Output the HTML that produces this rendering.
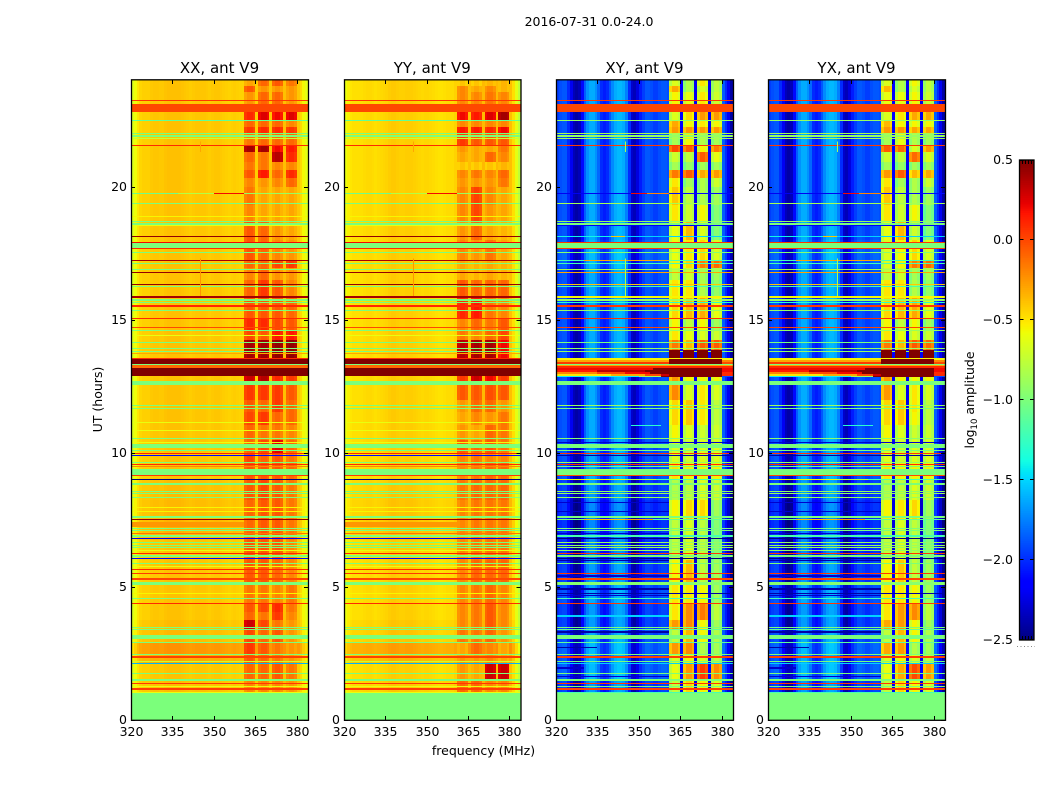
<!DOCTYPE html>
<html lang="en"><head><meta charset="utf-8"><title>2016-07-31 0.0-24.0</title>
<style>
html,body{margin:0;padding:0;background:#fff}
svg{display:block}
text{font-family:"DejaVu Sans","Liberation Sans",sans-serif;fill:#000}
</style></head>
<body>
<svg id="chart" xmlns="http://www.w3.org/2000/svg" width="1050" height="800" viewBox="0 0 1050 800">
<text x="589" y="26" font-size="12.5" text-anchor="middle">2016-07-31 0.0-24.0</text>
<text x="483.5" y="755" font-size="12.5" text-anchor="middle">frequency (MHz)</text>
<text transform="translate(102,399.5) rotate(-90)" font-size="12.5" text-anchor="middle">UT (hours)</text>
<text transform="translate(974,400) rotate(-90)" font-size="12.5" text-anchor="middle">log<tspan font-size="8.5" dy="3">10</tspan><tspan dy="-3"> amplitude</tspan></text>
</svg>
<script>
// ---- axis data ----
const xTicks = [320,335,350,365,380];
const yTicks = [0,5,10,15,20];
const cbarTicks = [-2.5,-2,-1.5,-1,-0.5,0,0.5];
const cbarTickLabels = ['\u22122.5','\u22122.0','\u22121.5','\u22121.0','\u22120.5','0.0','0.5'];
const panelTitles = ['XX, ant V9','YY, ant V9','XY, ant V9','YX, ant V9'];

// ---- frequency profiles (log10 amplitude, one value per MHz from 320 to 383) ----
const profileXX = [-.65,-.58,-.50,-.45,-.43,-.43,-.43,-.41,-.40,-.40,-.41,-.41,-.39,-.38,-.38,-.38,
 -.38,-.38,-.39,-.40,-.41,-.42,-.41,-.40,-.40,-.40,-.40,-.41,-.42,-.41,-.40,-.40,
 -.41,-.42,-.43,-.44,-.43,-.42,-.43,-.44,-.44,-.3,-.3,-.3,-.3,-.42,-.3,-.3,
 -.3,-.3,-.40,-.3,-.3,-.3,-.3,-.38,-.3,-.3,-.3,-.3,-.40,-.46,-.56,-.62];
const profileYY = [-.6,-.54,-.5,-.48,-.48,-.48,-.48,-.47,-.46,-.46,-.47,-.48,-.47,-.46,-.45,-.44,
 -.42,-.41,-.41,-.42,-.43,-.43,-.42,-.42,-.42,-.43,-.44,-.45,-.46,-.45,-.45,-.46,
 -.47,-.48,-.49,-.49,-.48,-.47,-.47,-.47,-.44,-.3,-.3,-.3,-.3,-.38,-.3,-.3,
 -.3,-.3,-.36,-.3,-.3,-.3,-.3,-.36,-.3,-.3,-.3,-.3,-.38,-.48,-.62,-.75];
const profileCross = [-1.95,-1.9,-1.87,-1.87,-2.0,-2.2,-2.35,-2.4,-2.35,-2.1,-1.85,-1.7,-1.62,-1.62,-1.7,-1.82,
 -2.0,-2.05,-2.0,-1.87,-1.72,-1.62,-1.58,-1.58,-1.62,-1.75,-2.0,-2.3,-2.35,-2.25,-2.05,-1.95,
 -1.87,-1.87,-1.9,-1.95,-1.95,-1.9,-1.87,-1.87,-1.9,-1,-1,-1,-1,-2.15,-1,-1,
 -1,-1,-2.2,-1,-1,-1,-1,-2.2,-1,-1,-1,-1,-1.85,-2.0,-2.2,-2.4];

// ---- RFI sub-bands in MHz ----
const bandEdges = [[361,365],[366,370],[371,375],[376,380]];
const crossBandShape = [-.1,.05,.05,-.05];
const parallelBandShape = [-.04,.01,.01,-.04];

// ---- time blocks: UT edges, top to bottom ----
const blockEdges = [24,23.78,23.55,23.10,22.80,22.50,22.24,21.98,21.56,21.30,20.93,20.63,20.33,19.99,19.31,18.68,18.00,17.25,16.95,16.50,15.90,15.08,14.63,14.25,13.54,12.90,12.56,12.00,11.55,11.06,10.50,10.01,9.68,9.00,8.25,7.50,6.75,6.00,5.18,4.39,4.05,3.75,3.38,2.89,2.48,2.10,1.50,1.00,0];

// ---- band amplitudes per time block ----
const bandsXX = [[-.3,-.1,-.05,-.15],[-.05,-.25,-.25,-.25],[-.25,-.1,-.1,-.25],[0,0,0,0],[.1,.25,.2,.25],[-.1,-.1,-.1,-.2],[.05,.1,.1,.05],[-.15,-.1,-.1,-.1],[.4,.4,.2,.15],[-.1,-.15,.35,.1],[-.15,-.15,-.2,-.2],[-.05,.15,-.1,.1],[-.2,-.25,-.2,-.1],[-.15,-.3,-.3,-.3],[-.2,-.3,-.3,-.3],[-.05,-.1,-.25,-.3],[-.05,-.1,-.2,-.25],[-.1,-.1,0,.05],[-.2,-.1,-.25,-.25],[-.1,.05,-.05,-.2],[-.05,-.05,-.05,-.1],[.1,.1,0,-.05],[0,-.05,.15,.15],[.4,.4,.45,.45],[.5,.5,.5,.5],[.3,.35,.1,.05],[.05,.05,.05,-.05],[-.05,-.1,.05,-.1],[0,.05,-.1,-.1],[-.1,-.15,-.15,-.2],[-.1,0,.25,-.1],[0,-.1,-.05,-.15],[-.05,-.05,-.05,-.1],[-.05,0,-.05,-.15],[-.1,-.05,-.05,-.15],[-.1,-.05,-.05,-.15],[-.05,-.05,-.05,-.2],[-.05,-.05,-.1,-.2],[-.15,-.15,-.2,-.15],[-.05,0,.1,-.15],[-.1,-.15,.05,-.2],[.3,0,-.15,-.25],[0,-.1,-.05,-.25],[.05,-.05,-.15,-.25],[-.05,-.1,-.15,-.25],[-.1,-.1,-.05,-.15],[-.2,-.2,-.2,-.25],[-1,-1,-1,-1]];
const bandsYY = [[-.4,-.4,-.35,-.35],[-.2,-.3,-.2,-.35],[-.2,-.2,-.15,-.2],[0,0,0,0],[.2,.15,.25,.4],[-.2,-.2,-.2,-.2],[.15,.15,.1,.2],[.05,-.05,-.05,-.05],[-.25,-.3,-.3,-.15],[-.3,-.3,-.1,-.2],[-.4,-.4,-.4,-.35],[-.2,-.15,-.2,-.1],[-.25,-.25,-.25,-.15],[-.2,.02,-.2,-.3],[-.2,0,-.25,-.3],[-.25,-.1,-.3,-.35],[-.2,-.25,-.15,-.3],[-.3,-.35,-.3,-.35],[-.3,-.35,-.3,-.35],[-.05,-.1,-.1,-.1],[.1,.15,-.15,-.2],[-.2,-.1,-.15,-.05],[-.15,-.2,-.1,0],[.35,.4,.4,.2],[.5,.5,.5,.5],[.05,.3,.2,.05],[-.05,-.05,-.02,-.05],[-.25,-.1,-.1,-.25],[-.3,-.2,-.25,-.15],[-.25,-.3,-.1,-.15],[-.05,-.1,-.05,-.15],[-.2,-.15,-.2,-.2],[-.2,-.15,-.1,-.1],[-.15,-.1,-.1,-.1],[-.2,-.15,-.15,-.15],[-.2,-.15,-.15,-.15],[-.2,-.15,-.15,-.15],[-.2,-.1,-.1,-.1],[-.2,-.15,-.1,-.2],[-.2,-.15,-.05,-.2],[-.2,-.15,-.05,-.2],[-.2,-.15,-.05,-.2],[-.15,-.15,-.1,-.25],[-.3,-.1,-.2,-.3],[-.25,-.25,-.2,-.3],[-.25,-.3,.3,.3],[-.1,-.1,-.2,-.2],[-1,-1,-1,-1]];
const bandsXY = [[-.7,-.85,-.55,-.8],[-.35,-.85,-.7,-.8],[-.6,-.65,-.55,-.75],[0,0,0,0],[-.7,-.5,-.3,-.3],[-.35,-.6,-.55,-.6],[-.3,-.3,-.3,-.3],[-.9,-.6,-.85,-.9],[-.05,-.1,-.6,-.2],[-.75,-.8,-.1,-.65],[-.9,-.95,-.9,-.9],[-.2,-.1,-.35,-.3],[-.55,-.9,-.85,-.75],[-.45,-.8,-.85,-.9],[-.55,-.75,-.6,-1],[-.65,-.4,-.7,-1],[-.65,-.55,-.5,-.7],[-.6,-.5,-.2,-.15],[-.8,-.75,-.9,-.9],[-.55,-.55,-.85,-.95],[-.5,-.4,-.35,-.65],[-.6,-.8,-.6,-.9],[-.55,-.65,-.7,-.75],[-.2,-.4,-.1,-.1],[.5,.5,.5,.5],[-.3,-.6,-.6,-.6],[-.25,-.7,-.55,-.7],[-.5,-.45,-.55,-.8],[-.5,-.45,-.55,-.8],[-.6,-.7,-.75,-.75],[-.7,-.75,-.7,-.7],[-.7,-.75,-.7,-.7],[-.55,-.6,-.6,-.6],[-.85,-.8,-.7,-.75],[-.6,-.5,-.5,-.9],[-.8,-.7,-.8,-1],[-.8,-.7,-.8,-1],[-.6,-.4,-.8,-.9],[-.55,-.55,-.6,-.9],[-.55,-.25,-.2,-.8],[-.55,-.25,-.2,-.8],[-.3,-.25,-.6,-.9],[-.8,-.4,-.6,-.85],[-.3,-.25,-.85,-.9],[-.7,-.6,-.7,-.8],[-.65,-.3,0,-.25],[-.8,-.5,-.6,-.7],[-1,-1,-1,-1]];
const bandsYX = [[-.7,-.85,-.6,-.8],[-.4,-.85,-.7,-.8],[-.65,-.65,-.6,-.75],[0,0,0,0],[-.7,-.55,-.35,-.35],[-.4,-.6,-.6,-.6],[-.3,-.3,-.35,-.35],[-.9,-.65,-.85,-.9],[-.1,-.15,-.7,-.3],[-.75,-.8,-.15,-.7],[-.9,-.95,-.9,-.9],[-.3,-.1,-.4,-.35],[-.55,-.9,-.85,-.75],[-.45,-.8,-.85,-.9],[-.55,-.75,-.6,-1],[-.65,-.4,-.75,-1],[-.7,-.6,-.5,-.7],[-.7,-.6,-.2,-.15],[-.8,-.75,-.9,-.9],[-.55,-.55,-.85,-.95],[-.5,-.4,-.35,-.65],[-.6,-.8,-.6,-.9],[-.55,-.65,-.7,-.75],[-.2,-.4,-.1,-.15],[.5,.5,.5,.5],[-.3,-.6,-.6,-.6],[-.3,-.7,-.55,-.7],[-.5,-.45,-.55,-.8],[-.5,-.45,-.6,-.8],[-.6,-.7,-.75,-.75],[-.7,-.75,-.7,-.7],[-.7,-.75,-.7,-.7],[-.55,-.6,-.6,-.6],[-.85,-.8,-.7,-.75],[-.6,-.55,-.5,-.9],[-.8,-.7,-.8,-1],[-.8,-.7,-.8,-1],[-.6,-.45,-.8,-.9],[-.55,-.55,-.6,-.9],[-.55,-.3,-.25,-.8],[-.55,-.3,-.25,-.8],[-.35,-.3,-.6,-.9],[-.8,-.4,-.6,-.85],[-.35,-.3,-.85,-.9],[-.7,-.6,-.7,-.8],[-.65,-.35,-.05,-.3],[-.8,-.5,-.6,-.7],[-1,-1,-1,-1]];

// ---- broadband level change per time block, added outside the RFI bands ----
const gainParallel = [0,0,0,0,0,0,0,0,0,0,0,0,0,0,0,0,0,0,0,0,0,0,0,0,0,0,0,0,0,0,0,0,0,.02,.03,.05,0,0,0,0,0,.02,.03,.15,.08,0,.02,0];
const gainCross = [0,0,0,0,0,0,0,0,0,0,0,0,0,0,0,0,.05,.05,0,0,0,0,0,0,0,0,0,0,0,0,0,0,0,-.05,-.1,-.1,-.1,-.05,0,-.05,-.05,-.05,0,.05,0,.05,-.05,0];

// ---- horizontal stripes: [centre UT, thickness h, parallel value, cross value]
// a value may be a list of [MHz from, MHz to, value] segments; null leaves that pol untouched
const stripes = [
[23.24,.04,.05,.05],[22.95,.30,0,0],[22.49,.04,-1.1,-.9],[21.99,.05,-1,-.85],[21.90,.04,-1,-.9],[21.81,.04,-.75,-.85],[21.55,.04,.1,.05],
[19.75,.04,[[320,337,-1.05],[337,350,-.8],[350,361,.2],[361,384,-.9]],[[320,347,-2.2],[347,353,.2],[353,361,-.2],[361,384,-2.1]]],
[19.38,.04,-1,-.85],[18.89,.04,-.55,null],[18.70,.05,-1,-.9],[18.60,.04,-1,-1],[18.53,.04,-.6,-2.2],
[18.14,.04,.45,[[320,340,-1.4],[340,345,-.4],[345,384,-1.5]]],[17.91,.04,.2,.05],[17.79,.165,-1,-1],[17.69,.04,.1,.05],[17.54,.04,-1,-.95],
[17.24,.04,.4,[[320,330,-1.2],[330,361,-.3],[361,384,-1.2]]],[17.11,.045,-1,-1.2],[16.89,.045,-1,-.85],[16.78,.04,.45,-.3],[16.34,.04,.45,-.4],[16.26,.04,-1,-1.2],
[15.87,.075,.4,-.55],[15.75,.04,-1,-.9],[15.65,.04,-1,-1.3],[15.53,.05,.1,.05],[15.35,.04,-1,-.9],[15.06,.05,.1,.08],[14.73,.04,0,0],[14.60,.04,-1,-.9],[14.41,.04,-.6,null],
[14.15,.05,-1,-1],[13.92,.04,-1,-.9],[13.81,.04,-1,-.9],[13.725,.30,null,[[361,365,.5],[366,370,.5],[371,375,.5],[376,380,.5]]],[13.75,.04,-.3,null],[13.56,.04,.1,-.55],
[13.52,.04,.5,[[320,361,-.55],[361,380,.5],[380,384,-.6]]],[13.46,.075,.5,[[320,361,-.3],[361,380,.5],[380,384,-.2]]],[13.39,.075,.5,[[320,361,.05],[361,380,.5],[380,384,0]]],
[13.32,.04,-1,-1],[13.29,.05,-.1,-.3],[13.23,.06,-.1,.1],
[13.16,.075,.5,[[320,355,.2],[355,380,.5],[380,384,.2]]],[13.09,.075,.5,[[320,335,.15],[335,352,.35],[352,380,.5],[380,384,.2]]],[13.01,.075,.5,[[320,335,-.2],[335,345,0],[345,354,.2],[354,380,.5],[380,384,.1]]],[12.94,.065,.5,[[320,340,-.5],[340,352,-.3],[352,358,0],[358,361,.3],[361,380,.5],[380,384,.1]]],
[12.89,.05,null,[[320,350,-1.4],[350,358,-.9],[358,380,.5],[380,384,-1.9]]],
[12.63,.14,-1,-1],[11.79,.04,-1,-.9],[11.69,.04,-1,-1],[11.16,.04,-.6,null],[11.06,.04,null,[[347,358,-1.3]]],[10.86,.04,-.6,null],[10.55,.04,-1,-.95],[10.40,.04,-.6,-2.3],[10.29,.15,-1,-1],[10.11,.04,-1,-1],
[10.00,.04,.1,.05],[9.91,.04,-2.1,-2.4],[9.66,.04,-1,-.9],[9.57,.045,.1,.1],[9.50,.04,-.2,-1],[9.30,.21,-1,-1],[9.18,.04,.05,0],
[9.03,.04,-2.5,[[320,345,-.6],[345,356,-.8],[356,384,-1.2]]],[8.85,.075,-1,-1],[8.57,.04,-1,-.9],[8.48,.04,-1,-.9],[8.36,.04,-1,-.9],
[8.16,.06,null,[[320,361,-2.3]]],[7.96,.04,-.55,null],[7.81,.04,-.55,[[320,361,-2.3]]],[7.61,.075,-1,-1],
[7.53,.04,.45,[[320,330,-1],[330,345,-.4],[345,355,-.3],[355,384,-1.1]]],[7.33,.19,[[320,361,-.25]],null],[7.19,.04,-1,-1],[7.09,.04,-1,-1],[6.98,.04,-.15,[[320,361,-2.3]]],[6.90,.04,-1,-1.2],[6.81,.04,-2.2,-2.5],[6.66,.04,-1,-.9],[6.56,.04,-1,-.9],[6.46,.04,-1,-.9],[6.36,.04,-.6,-.9],[6.25,.045,.1,.05],[6.15,.04,-1,-1],[6.06,.04,-2.1,-2.5],
[5.98,.05,null,[[320,361,-2.4]]],[5.86,.04,-1,-1],[5.75,.04,-.6,null],[5.63,.04,.1,null],[5.50,.04,.05,.05],[5.39,.06,null,[[320,361,-2.3]]],[5.29,.05,0,0],[5.12,.10,-1,-.95],[4.92,.06,null,[[320,361,-2.4]]],[4.76,.04,-.55,-2.4],[4.68,.04,null,[[320,361,-2.3]]],[4.56,.04,-1,-1.2],[4.38,.045,.1,.05],[3.90,.04,null,[[320,361,-1.5]]],
[3.46,.04,-1,-1],[3.40,.04,-1,-1.1],[3.30,.05,null,[[320,361,-2.4]]],[3.11,.15,-1,-1],[2.90,.04,-1,-1.1],[2.72,.05,null,[[320,335,-2.4]]],[2.45,.04,-1,-1],[2.36,.075,.03,.03],[2.21,.04,-.7,-1],[2.13,.04,-1.6,-1.5],
[1.95,.05,null,[[320,330,-2.3]]],[1.75,.04,-1,-1],[1.62,.05,null,[[320,361,-2.3]]],[1.51,.075,-1,-1],[1.38,.04,.05,.05],[1.26,.04,-.6,-1],[1.15,.075,.03,.03],[1.04,.04,-.6,-1.2],[0.5,1,-1,-1]
];

// ---- short vertical interference marks: [MHz, UT from, UT to, parallel value, cross value] ----
const verticalFlags = [[345,15.9,17.3,-.25,-.85],[345,21.3,21.7,-.3,-.85]];

// ---- jet colormap nodes ----
const jetR = [[0,0],[.35,0],[.66,1],[.89,1],[1,.5]];
const jetG = [[0,0],[.125,0],[.375,1],[.64,1],[.91,0],[1,0]];
const jetB = [[0,.5],[.11,1],[.34,1],[.65,0],[1,0]];
const vMin = -2.5, vMax = 0.5;

const svg = document.getElementById('chart');
const NS = 'http://www.w3.org/2000/svg';
const axisTop = 80, axisBottom = 720;
const panelLefts = [131,344,556,768];
const panelWidths = [177,176.5,177,177];
const freqMin = 320, freqMax = 384, utMax = 24;
const yScale = ut => axisTop + (utMax - ut) * (axisBottom - axisTop) / utMax;
const xScale = (left, width, f) => left + (f - freqMin) * width / (freqMax - freqMin);

function interp(nodes, t) {
  for (let i = 1; i < nodes.length; i++) {
    if (t <= nodes[i][0]) {
      const a = nodes[i-1], b = nodes[i];
      return a[1] + (b[1]-a[1]) * (t-a[0]) / (b[0]-a[0]);
    }
  }
  return nodes[nodes.length-1][1];
}
function jet(v) {
  const t = Math.max(0, Math.min(1, (v - vMin) / (vMax - vMin)));
  const c = n => Math.round(interp(n, t) * 255);
  return 'rgb(' + c(jetR) + ',' + c(jetG) + ',' + c(jetB) + ')';
}
function addLine(parent, x1, y1, x2, y2, name) {
  const l = document.createElementNS(NS, 'line');
  l.setAttribute('x1', x1); l.setAttribute('y1', y1);
  l.setAttribute('x2', x2); l.setAttribute('y2', y2);
  l.setAttribute('stroke', '#000');
  l.setAttribute('stroke-width', '1');
  
  
  parent.appendChild(l);
}
function addText(parent, x, y, s, anchor, name, size) {
  const t = document.createElementNS(NS, 'text');
  t.setAttribute('x', x); t.setAttribute('y', y);
  t.setAttribute('text-anchor', anchor);
  t.setAttribute('font-size', size);
  t.textContent = s;
  
  
  parent.appendChild(t);
}

// time breakpoints
const breakSet = new Set(blockEdges.map(v => +v.toFixed(4)));
stripes.forEach(s => {
  breakSet.add(+(s[0] + s[1]/2).toFixed(4));
  breakSet.add(+(s[0] - s[1]/2).toFixed(4));
});
const breaks = Array.from(breakSet).filter(v => v >= 0 && v <= utMax).sort((a,b) => b-a);

function blockIndex(ut) {
  for (let i = 0; i < blockEdges.length-1; i++) {
    if (ut <= blockEdges[i] && ut > blockEdges[i+1]) return i;
  }
  return blockEdges.length-2;
}
function bandOf(f) {
  for (let b = 0; b < bandEdges.length; b++) {
    if (f >= bandEdges[b][0] && f < bandEdges[b][1]) return b;
  }
  return -1;
}
function drawPanel(idx, profile, bands, gain, isCross) {
  const left = panelLefts[idx];
  const width = panelWidths[idx];
  const g = document.createElementNS(NS, 'g');
  
  
  g.setAttribute('shape-rendering', 'crispEdges');
  svg.appendChild(g);
  const shape = isCross ? crossBandShape : parallelBandShape;
  for (let r = 0; r < breaks.length-1; r++) {
    const top = breaks[r], bot = breaks[r+1], mid = (top+bot)/2;
    const y0 = Math.round(yScale(top));
    let y1 = Math.round(yScale(bot));
    if (y1 <= y0) y1 = y0 + 1;
    const bi = blockIndex(mid);
    const active = stripes.filter(s => Math.abs(mid - s[0]) < s[1]/2);
    let runColor = null, runStart = 0;
    const flush = (endCol) => {
      const x0 = Math.round(xScale(left, width, freqMin + runStart));
      const x1 = Math.round(xScale(left, width, freqMin + endCol));
      const cell = document.createElementNS(NS, 'rect');
      cell.setAttribute('x', x0);
      cell.setAttribute('y', y0);
      cell.setAttribute('width', x1 - x0);
      cell.setAttribute('height', y1 - y0);
      cell.setAttribute('fill', runColor);
      
      
      g.appendChild(cell);
    };
    for (let c = 0; c < profile.length; c++) {
      const f = freqMin + c;
      const b = bandOf(f);
      let v;
      if (b >= 0) {
        v = bands[bi][b] + shape[f - bandEdges[b][0]];
      } else {
        v = profile[c] + gain[bi];
      }
      active.forEach(s => {
        const sv = s[isCross ? 3 : 2];
        if (sv === null) return;
        if (typeof sv === 'number') { v = sv; return; }
        sv.forEach(seg => { if (f + .5 >= seg[0] && f + .5 < seg[1]) v = seg[2]; });
      });
      const col = jet(v);
      if (col !== runColor) {
        if (runColor !== null) flush(c);
        runColor = col; runStart = c;
      }
    }
    flush(profile.length);
  }
  verticalFlags.forEach(fl => {
    const m = document.createElementNS(NS, 'rect');
    m.setAttribute('x', Math.round(xScale(left, width, fl[0])));
    m.setAttribute('y', yScale(fl[2]));
    m.setAttribute('width', 1);
    m.setAttribute('height', yScale(fl[1]) - yScale(fl[2]));
    m.setAttribute('fill', jet(fl[isCross ? 4 : 3]));
    
    
    g.appendChild(m);
  });
  // axes
  const ax = document.createElementNS(NS, 'g');
  
  
  svg.appendChild(ax);
  const frame = document.createElementNS(NS, 'rect');
  frame.setAttribute('x', left + .5);
  frame.setAttribute('y', axisTop - .2);
  frame.setAttribute('width', width);
  frame.setAttribute('height', axisBottom - axisTop + .5);
  frame.setAttribute('fill', 'none');
  frame.setAttribute('stroke', '#000');
  frame.setAttribute('stroke-width', '1.3');
  
  
  ax.appendChild(frame);
  xTicks.forEach(t => {
    const x = Math.round(xScale(left, width, t)) + .5;
    addLine(ax, x, axisBottom, x, axisBottom - 4, 'x-tick');
    addLine(ax, x, axisTop, x, axisTop + 4, 'x-tick-top');
    addText(ax, x, axisBottom + 16, String(t), 'middle', 'x-tick-label', 12.5);
  });
  yTicks.forEach(t => {
    const y = Math.round(yScale(t)) + .5;
    addLine(ax, left, y, left + 4, y, 'y-tick');
    addLine(ax, left + width, y, left + width - 4, y, 'y-tick-right');
    addText(ax, left - 4, y + 3.5, String(t), 'end', 'y-tick-label', 12.5);
  });
  addText(ax, left + width/2, 73, panelTitles[idx], 'middle', 'panel-title', 15);
}
drawPanel(0, profileXX, bandsXX, gainParallel, false);
drawPanel(1, profileYY, bandsYY, gainParallel, false);
drawPanel(2, profileCross, bandsXY, gainCross, true);
drawPanel(3, profileCross, bandsYX, gainCross, true);

// colorbar
(function () {
  const cx = 1019.5, cw = 14.5, cTop = 160, cBot = 640;
  const cy = v => cBot - (v - vMin) * (cBot - cTop) / (vMax - vMin);
  const g = document.createElementNS(NS, 'g');
  
  
  svg.appendChild(g);
  const steps = 256;
  for (let i = 0; i < steps; i++) {
    const v0 = vMin + (vMax - vMin) * i / steps;
    const v1 = vMin + (vMax - vMin) * (i + 1) / steps;
    const s = document.createElementNS(NS, 'rect');
    s.setAttribute('x', cx);
    s.setAttribute('y', cy(v1));
    s.setAttribute('width', cw);
    s.setAttribute('height', cy(v0) - cy(v1) + .5);
    s.setAttribute('fill', jet((v0 + v1) / 2));
    
    
    g.appendChild(s);
  }
  const frame = document.createElementNS(NS, 'rect');
  frame.setAttribute('x', cx);
  frame.setAttribute('y', cTop);
  frame.setAttribute('width', cw);
  frame.setAttribute('height', cBot - cTop);
  frame.setAttribute('fill', 'none');
  frame.setAttribute('stroke', '#000');
  frame.setAttribute('stroke-width', '1.3');
  
  
  g.appendChild(frame);
  cbarTicks.forEach((t, i) => {
    const y = Math.round(cy(t)) + (t === vMax ? .5 : -.5);
    addLine(g, cx, y, cx + 4, y, 'colorbar-tick');
    addLine(g, cx + cw, y, cx + cw - 4, y, 'colorbar-tick-right');
    addText(g, 1013, Math.round(cy(t)) + 4, cbarTickLabels[i], 'end', 'colorbar-tick-label', 12.5);
  });
  [1022,1025,1028,1031].forEach(x => {
    addLine(g, x + .5, cTop, x + .5, cTop + 4, 'colorbar-top-minor-tick');
    addLine(g, x + .5, cBot, x + .5, cBot - 4, 'colorbar-bottom-minor-tick');
  });
  const dots = document.createElementNS(NS, 'line');
  dots.setAttribute('x1', 1017); dots.setAttribute('y1', 646.5);
  dots.setAttribute('x2', 1035); dots.setAttribute('y2', 646.5);
  dots.setAttribute('stroke', '#888');
  dots.setAttribute('stroke-dasharray', '1 2.5');
  
  
  g.appendChild(dots);
})();
</script>
</body></html>
